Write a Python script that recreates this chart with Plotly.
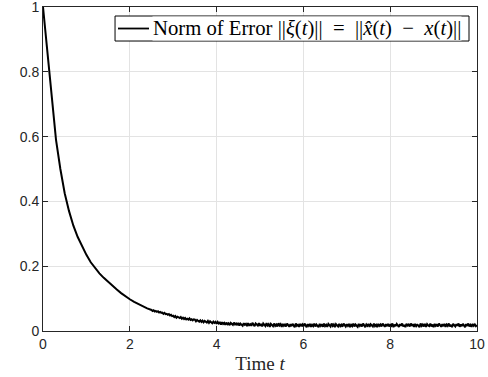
import plotly.graph_objects as go

# smooth early decay
t_smooth = [0.0, 0.1, 0.2, 0.3, 0.4, 0.5, 0.6, 0.7, 0.8, 0.9, 1.0, 1.1, 1.2,
            1.3, 1.4, 1.5, 1.6, 1.7, 1.8, 1.9, 2.0, 2.1, 2.2, 2.3, 2.4]
e_smooth = [1.0, 0.86, 0.72, 0.59, 0.50, 0.425, 0.37, 0.325, 0.29, 0.26, 0.235,
            0.212, 0.194, 0.178, 0.164, 0.151, 0.139, 0.128, 0.117, 0.107,
            0.098, 0.090, 0.083, 0.076, 0.070]

# noisy tail, sampled every 0.025 from 2.5 to 10
e_noisy = [
    0.065, 0.062, 0.064, 0.060, 0.062, 0.059, 0.061, 0.057, 0.059, 0.056, 0.057, 0.053, 0.056, 0.052, 0.053, 0.050, 0.052, 0.048, 0.050, 0.046,
    0.047, 0.043, 0.046, 0.041, 0.044, 0.042, 0.040, 0.043, 0.038, 0.041, 0.037, 0.040, 0.036, 0.038, 0.035, 0.039, 0.034, 0.036, 0.033, 0.036,
    0.035, 0.030, 0.034, 0.031, 0.029, 0.033, 0.028, 0.032, 0.027, 0.031, 0.029, 0.026, 0.031, 0.025, 0.030, 0.027, 0.024, 0.029, 0.025, 0.028,
    0.022, 0.028, 0.023, 0.026, 0.020, 0.027, 0.022, 0.025, 0.019, 0.026, 0.021, 0.024, 0.018, 0.025, 0.022, 0.019, 0.026, 0.020, 0.023, 0.018,
    0.025, 0.017, 0.023, 0.020, 0.016, 0.024, 0.019, 0.022, 0.015, 0.024, 0.018, 0.021, 0.016, 0.025, 0.019, 0.015, 0.023, 0.020, 0.017, 0.024,
    0.016, 0.022, 0.014, 0.023, 0.019, 0.015, 0.024, 0.017, 0.021, 0.013, 0.022, 0.018, 0.015, 0.023, 0.016, 0.020, 0.014, 0.024, 0.017, 0.021,
    0.013, 0.022, 0.016, 0.020, 0.014, 0.023, 0.018, 0.013, 0.021, 0.015, 0.022, 0.017, 0.012, 0.023, 0.016, 0.019, 0.013, 0.022, 0.015, 0.020,
    0.014, 0.023, 0.017, 0.012, 0.021, 0.016, 0.022, 0.013, 0.019, 0.015, 0.023, 0.014, 0.020, 0.017, 0.012, 0.022, 0.016, 0.021, 0.013, 0.023,
    0.015, 0.019, 0.013, 0.022, 0.017, 0.014, 0.023, 0.016, 0.020, 0.012, 0.021, 0.018, 0.014, 0.022, 0.015, 0.019, 0.013, 0.023, 0.017, 0.014,
    0.021, 0.016, 0.022, 0.012, 0.019, 0.015, 0.023, 0.014, 0.020, 0.017, 0.013, 0.022, 0.016, 0.021, 0.014, 0.023, 0.018, 0.012, 0.020, 0.016,
    0.022, 0.013, 0.021, 0.017, 0.014, 0.023, 0.015, 0.019, 0.012, 0.022, 0.016, 0.020, 0.014, 0.023, 0.017, 0.013, 0.021, 0.015, 0.022, 0.014,
    0.019, 0.016, 0.023, 0.012, 0.020, 0.015, 0.022, 0.017, 0.013, 0.021, 0.016, 0.023, 0.014, 0.019, 0.012, 0.022, 0.017, 0.020, 0.014, 0.023,
    0.016, 0.021, 0.013, 0.022, 0.015, 0.019, 0.017, 0.012, 0.023, 0.016, 0.020, 0.014, 0.022, 0.013, 0.021, 0.017, 0.015, 0.023, 0.014, 0.020,
    0.012, 0.022, 0.016, 0.019, 0.014, 0.023, 0.017, 0.013, 0.021, 0.015, 0.022, 0.013, 0.020, 0.016, 0.023, 0.014, 0.019, 0.012, 0.022, 0.017,
    0.014, 0.021, 0.016, 0.023, 0.013, 0.020, 0.015, 0.022, 0.017, 0.012, 0.021, 0.016, 0.023, 0.014, 0.019, 0.013, 0.022, 0.016, 0.020, 0.015,
    0.018,
]
t_noisy = [round(2.5 + 0.025 * i, 3) for i in range(len(e_noisy))]

x_ticks = [0, 2, 4, 6, 8, 10]
y_ticks = [0, 0.2, 0.4, 0.6, 0.8, 1]
y_tick_labels = ["0", "0.2", "0.4", "0.6", "0.8", "1"]

t_all = t_smooth + t_noisy
e_all = e_smooth + e_noisy

legend_text = ("Norm of Error ||<i>\u03be</i>(<i>t</i>)||\u2002=\u2002"
               "||<i>x\u0302</i>(<i>t</i>)\u2002\u2212\u2002<i>x</i>(<i>t</i>)||")

fig = go.Figure()
fig.add_trace(go.Scatter(x=t_all, y=e_all, mode="lines",
                         line=dict(color="black", width=2),
                         name="Norm of Error", showlegend=False))

# legend box drawn in paper coordinates (plot area: 434 x 324 px)
fig.add_shape(type="rect", xref="paper", yref="paper",
              x0=0.166, x1=0.9816, y0=0.895, y1=0.9722,
              line=dict(color="black", width=1), fillcolor="white", layer="above")
fig.add_shape(type="line", xref="paper", yref="paper",
              x0=0.1728, x1=0.2442, y0=0.9336, y1=0.9336,
              line=dict(color="black", width=1.8), layer="above")
fig.add_annotation(xref="paper", yref="paper", x=0.2512, y=0.9336,
                   xanchor="left", yanchor="middle", showarrow=False,
                   text=legend_text, bgcolor="white", borderpad=0,
                   font=dict(family="Liberation Serif, serif", size=20.7, color="black"))

axis_color = "#262626"
grid_color = "#e3e3e3"
fig.update_layout(
    width=488, height=377,
    margin=dict(l=43, r=11, t=7, b=46),
    paper_bgcolor="white", plot_bgcolor="white",
    font=dict(family="Liberation Sans, Arial, sans-serif", size=14, color=axis_color),
    showlegend=False,
    xaxis=dict(range=[0, 10], tickvals=x_ticks, ticktext=[str(v) for v in x_ticks],
               showgrid=True, gridcolor=grid_color, gridwidth=1,
               showline=True, linecolor=axis_color, linewidth=1, mirror="ticks",
               ticks="inside", ticklen=5, tickcolor=axis_color, zeroline=False,
               automargin=False, ticklabeloverflow="allow",
               title=dict(text="Time <i>t</i>",
                          font=dict(family="Liberation Serif, serif", size=19, color=axis_color),
                          standoff=5)),
    yaxis=dict(range=[0, 1], tickvals=y_ticks, ticktext=y_tick_labels,
               showgrid=True, gridcolor=grid_color, gridwidth=1,
               showline=True, linecolor=axis_color, linewidth=1, mirror="ticks",
               ticks="inside", ticklen=5, tickcolor=axis_color, zeroline=False,
               automargin=False, ticklabeloverflow="allow"),
)

fig.write_html("out.html", config={"displayModeBar": False},
               post_script="document.body.style.margin='0px';")
